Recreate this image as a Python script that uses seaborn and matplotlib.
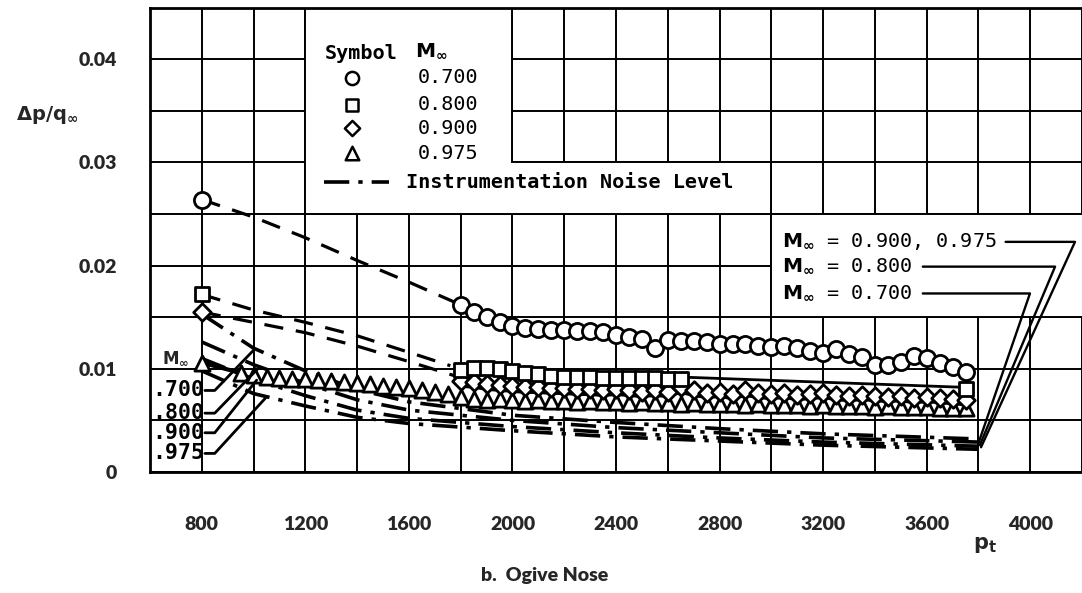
import numpy as np
import pandas as pd
import matplotlib
matplotlib.use("Agg")
import matplotlib.pyplot as plt
import seaborn as sns

# ---------------- data ----------------
# M = 0.700 (circles)
c_x = [800, 1800, 1850, 1900, 1950, 2000, 2050, 2100, 2150, 2200, 2250, 2300, 2350, 2400, 2450,
       2500, 2550, 2600, 2650, 2700, 2750, 2800, 2850, 2900, 2950, 3000, 3050, 3100, 3150, 3200,
       3250, 3300, 3350, 3400, 3450, 3500, 3550, 3600, 3650, 3700, 3750]
c_y = [0.0264, 0.0162, 0.0155, 0.0150, 0.0145, 0.0141, 0.0140, 0.0139, 0.0138, 0.0138, 0.0137,
       0.0137, 0.0136, 0.0133, 0.0131, 0.0129, 0.0120, 0.0128, 0.0127, 0.0127, 0.0126, 0.0124,
       0.0124, 0.0124, 0.0122, 0.0121, 0.0122, 0.0120, 0.0117, 0.0115, 0.0119, 0.0114, 0.0111,
       0.0104, 0.0104, 0.0107, 0.0112, 0.0110, 0.0106, 0.0102, 0.0097]
c_fair_x = [800, 1000, 1200, 1400, 1600, 1800]
c_fair_y = [0.0264, 0.0247, 0.0227, 0.0205, 0.0184, 0.0162]

# M = 0.800 (squares)
s_x = [800, 1800, 1850, 1900, 1950, 2000, 2050, 2100, 2150, 2200, 2250, 2300, 2350, 2400, 2450,
       2500, 2550, 2600, 2650, 3750]
s_y = [0.0172, 0.0099, 0.0101, 0.0101, 0.0100, 0.0098, 0.0096, 0.0095, 0.0093, 0.0092, 0.0092,
       0.0092, 0.0091, 0.0091, 0.0091, 0.0091, 0.0091, 0.0090, 0.0090, 0.0080]
s_fair_x = [800, 1000, 1200, 1400, 1600, 1760]
s_fair_y = [0.0172, 0.0157, 0.0145, 0.0132, 0.0116, 0.0103]
s_line_x = [2650, 3750]
s_line_y = [0.0092, 0.0082]

# M = 0.900 (diamonds)
d_x = [800, 1800, 1850, 1900, 1950, 2000, 2050, 2100, 2150, 2200, 2250, 2300, 2350, 2400, 2450,
       2500, 2550, 2600, 2650, 2700, 2750, 2800, 2850, 2900, 2950, 3000, 3050, 3100, 3150, 3200,
       3250, 3300, 3350, 3400, 3450, 3500, 3550, 3600, 3650, 3700, 3750]
d_y = [0.0155, 0.0088, 0.0087, 0.0085, 0.0084, 0.0083, 0.0082, 0.0082, 0.0081, 0.0081, 0.0080,
       0.0080, 0.0079, 0.0080, 0.0079, 0.0078, 0.0079, 0.0078, 0.0082, 0.0079, 0.0077, 0.0078,
       0.0076, 0.0079, 0.0077, 0.0076, 0.0077, 0.0075, 0.0076, 0.0077, 0.0075, 0.0074, 0.0075,
       0.0074, 0.0073, 0.0074, 0.0072, 0.0073, 0.0072, 0.0071, 0.0070]
d_fair_x = [800, 1000, 1200, 1400, 1600, 1780]
d_fair_y = [0.0155, 0.0145, 0.0135, 0.0122, 0.0107, 0.0093]

# M = 0.975 (triangles)
t_x = [800, 950, 1000, 1050, 1100, 1150, 1200, 1250, 1300, 1350, 1400, 1450, 1500, 1550, 1600,
       1650, 1700, 1750, 1800, 1850, 1900, 1950, 2000, 2050, 2100, 2150, 2200, 2250, 2300, 2350,
       2400, 2450, 2500, 2550, 2600, 2650, 2700, 2750, 2800, 2850, 2900, 2950, 3000, 3050, 3100,
       3150, 3200, 3250, 3300, 3350, 3400, 3450, 3500, 3550, 3600, 3650, 3700, 3750]
t_y = [0.0106, 0.0096, 0.0094, 0.0092, 0.0091, 0.0090, 0.0090, 0.0089, 0.0088, 0.0087, 0.0086,
       0.0085, 0.0083, 0.0082, 0.0081, 0.0079, 0.0078, 0.0076, 0.0073, 0.0071, 0.0070, 0.0071,
       0.0070, 0.0069, 0.0070, 0.0069, 0.0069, 0.0068, 0.0069, 0.0068, 0.0068, 0.0067, 0.0068,
       0.0067, 0.0067, 0.0066, 0.0067, 0.0066, 0.0066, 0.0066, 0.0065, 0.0066, 0.0065, 0.0065,
       0.0065, 0.0064, 0.0065, 0.0064, 0.0064, 0.0064, 0.0063, 0.0064, 0.0063, 0.0063, 0.0063,
       0.0062, 0.0062, 0.0062]

# instrumentation noise levels (dash-dot)
n_x = [800, 1000, 1200, 1400, 1600, 2000, 2400, 2800, 3200, 3800]
n700_y = [0.0153, 0.0120, 0.0098, 0.0080, 0.0068, 0.0055, 0.0048, 0.0042, 0.0037, 0.0032]
n800_y = [0.0126, 0.0104, 0.0086, 0.0070, 0.0060, 0.0050, 0.0043, 0.0038, 0.0033, 0.0029]
n900_y = [0.0110, 0.0090, 0.0074, 0.0060, 0.0052, 0.0044, 0.0038, 0.0033, 0.0029, 0.0025]
n975_y = [0.0098, 0.0076, 0.0064, 0.0053, 0.0047, 0.0040, 0.0034, 0.0030, 0.0026, 0.0022]

mach_labels = ["0.700", "0.800", "0.900", "0.975"]
left_labels = [".700", ".800", ".900", ".975"]
x_ticks = [800, 1200, 1600, 2000, 2400, 2800, 3200, 3600, 4000]
y_ticks = [0, 0.01, 0.02, 0.03, 0.04]
y_tick_labels = ["0", "0.01", "0.02", "0.03", "0.04"]

# ---------------- style ----------------
sns.set_style("white")
plt.rcParams["font.family"] = ["DejaVu Sans"]
plt.rcParams["mathtext.fontset"] = "dejavusans"
MONO = ["DejaVu Sans Mono"]
BOLD = ["Lato", "DejaVu Sans"]

fig = plt.figure(figsize=(10.82, 5.93), dpi=100)
W, H = 1082, 593
ax = fig.add_axes([150 / W, (H - 472) / H, (W - 150) / W, (472 - 7.6) / H])
ax.set_xlim(600, 4191)
ax.set_ylim(0, 0.045)

# grid
ax.set_xticks(x_ticks)
ax.set_xticks(np.arange(600, 4201, 200), minor=True)
ax.set_yticks(y_ticks)
ax.set_yticks(np.arange(0, 0.0451, 0.005), minor=True)
ax.grid(which="both", color="black", linewidth=1.4, zorder=0)
ax.set_axisbelow(True)
ax.set_xticklabels([str(v) for v in x_ticks], fontfamily=BOLD, fontweight="heavy", fontsize=14)
ax.set_yticklabels(y_tick_labels, fontfamily=BOLD, fontweight="heavy", fontsize=14)
ax.tick_params(which="both", length=0)
ax.tick_params(axis="x", pad=32)
ax.tick_params(axis="y", pad=24)
for side in ["left", "top", "bottom"]:
    ax.spines[side].set_color("black")
    ax.spines[side].set_linewidth(2.0)
ax.spines["right"].set_visible(False)

# white boxes (legend + callout)
legend_poly = plt.Polygon([(1200, 0.045), (2000, 0.045), (2000, 0.030), (3000, 0.030),
                           (3000, 0.025), (1200, 0.025)], closed=True, facecolor="white",
                          edgecolor="black", linewidth=1.4, zorder=1)
ax.add_patch(legend_poly)
callout_poly = plt.Polygon([(3000, 0.025), (4300, 0.025), (4300, 0.015), (3000, 0.015)],
                           closed=True, facecolor="white", edgecolor="black", linewidth=1.4,
                           zorder=1)
ax.add_patch(callout_poly)

lw = 2.3
dash = (0, (6, 4))
dashdot = (0, (7, 2.5, 1.2, 2.5))

# fairing dashed lines
sns.lineplot(x=c_fair_x, y=c_fair_y, ax=ax, color="black", lw=lw, linestyle=dash, zorder=2)
sns.lineplot(x=s_fair_x, y=s_fair_y, ax=ax, color="black", lw=lw, linestyle=dash, zorder=2)
sns.lineplot(x=d_fair_x, y=d_fair_y, ax=ax, color="black", lw=lw, linestyle=dash, zorder=2)
sns.lineplot(x=s_line_x, y=s_line_y, ax=ax, color="black", lw=2.0, zorder=2)
sns.lineplot(x=d_x[1:], y=[v - 0.0005 for v in d_y[1:]], ax=ax, color="black", lw=2.0, zorder=2)
sns.lineplot(x=t_x[:2], y=t_y[:2], ax=ax, color="black", lw=3.0, zorder=2)
sns.lineplot(x=t_x[1:], y=[v - 0.0005 for v in t_y[1:]], ax=ax, color="black", lw=2.6, zorder=2)

# noise lines
for ny in [n700_y, n800_y, n900_y, n975_y]:
    sns.lineplot(x=n_x, y=ny, ax=ax, color="black", lw=2.6, linestyle=dashdot, zorder=2)

# markers
mk = dict(facecolor="white", edgecolor="black", linewidth=2.0, zorder=3, legend=False)
sns.scatterplot(x=t_x, y=t_y, ax=ax, marker="^", s=120, **mk)
sns.scatterplot(x=d_x, y=d_y, ax=ax, marker="D", s=80, **mk)
sns.scatterplot(x=s_x, y=s_y, ax=ax, marker="s", s=95, **mk)
sns.scatterplot(x=c_x, y=c_y, ax=ax, marker="o", s=135, **mk)

# ---------------- legend (drawn) ----------------
txt = dict(fontfamily=MONO, fontsize=14.5, color="black", va="center", zorder=4)
ax.text(1274, 0.0406, "Symbol", fontweight="bold", **txt)
ax.text(1625, 0.0408, r"$\mathbf{M}_{\mathbf{\infty}}$", **txt)
leg_rows = [0.0382, 0.0356, 0.0333, 0.0309]
leg_markers = ["o", "s", "D", "^"]
leg_sizes = [90, 65, 60, 95]
for yy, m, ss, lab in zip(leg_rows, leg_markers, leg_sizes, mach_labels):
    ax.scatter([1382], [yy], marker=m, s=ss, facecolor="white", edgecolor="black",
               linewidth=1.8, zorder=4)
    ax.text(1633, yy, lab, **txt)
ax.plot([1274, 1525], [0.0281, 0.0281], color="black", lw=2.6, linestyle=dashdot, zorder=4)
ax.text(1590, 0.0281, "Instrumentation Noise Level", fontweight="bold", **txt)

# callouts on right
callouts = [(r"$\mathbf{M}_{\mathbf{\infty}}$ = 0.900, 0.975", 0.0223, 3905, 4173, 3810, 0.0024),
            (r"$\mathbf{M}_{\mathbf{\infty}}$ = 0.800", 0.0199, 3585, 4096, 3805, 0.0026),
            (r"$\mathbf{M}_{\mathbf{\infty}}$ = 0.700", 0.0173, 3585, 3999, 3800, 0.0028)]
for lab, yy, x0, x1, xe, ye in callouts:
    ax.text(3040, yy, lab, **txt)
    ax.plot([x0, x1, xe], [yy, yy, ye], color="black", lw=1.7, zorder=4)

# left labels for noise lines
ax.text(700, 0.0110, r"$\mathbf{M}_{\mathbf{\infty}}$", fontsize=12, ha="center", va="center",
        zorder=4)
left_y = [0.0079, 0.0057, 0.0038, 0.0018]
targets = [(1000, 0.0118), (1024, 0.0102), (1012, 0.0089), (1051, 0.0073)]
for lab, yy, (tx, ty) in zip(left_labels, left_y, targets):
    ax.text(808, yy, lab, ha="right", fontweight="bold",
            **{k: v for k, v in txt.items() if k != "fontsize"}, fontsize=15.5)
    ax.plot([812, 850, tx], [yy, yy, ty], color="black", lw=2.0, zorder=4)

# axis labels / title
fig.text(47 / W, 1 - 115 / H, r"$\mathbf{\Delta p/q_{\infty}}$", fontsize=14,
         ha="center", va="center")
fig.text(985 / W, 1 - 545 / H, r"$\mathbf{p_{t}}$", fontsize=15, ha="center", va="center")
fig.text(545 / W, 1 - 575 / H, "b.  Ogive Nose", fontfamily=BOLD, fontweight="heavy",
         fontsize=14, ha="center", va="center")

fig.savefig("out.png", dpi=100)
